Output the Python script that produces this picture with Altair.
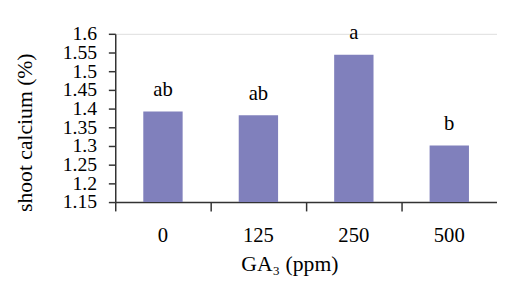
import altair as alt
import pandas as pd

doses = ["0", "125", "250", "500"]
calcium = [1.392, 1.382, 1.544, 1.301]
letters = ["ab", "ab", "a", "b"]
y_ticks = [1.15, 1.2, 1.25, 1.3, 1.35, 1.4, 1.45, 1.5, 1.55, 1.6]

df = pd.DataFrame({"dose": doses, "calcium": calcium, "letter": letters})

FONT = "Liberation Serif"

x = alt.X(
    "dose:N",
    sort=doses,
    scale=alt.Scale(paddingInner=0, paddingOuter=0),
    axis=alt.Axis(
        title="GA₃ (ppm)",
        labelAngle=0,
        bandPosition=0,
        tickSize=9,
        labelPadding=14,
        labelFontSize=21,
        labelFont=FONT,
        labelColor="#000",
        titleFont=FONT,
        titleFontSize=22,
        titleFontWeight="normal",
        titleColor="#000",
        titleX=177,
        titleY=70,
        titleAnchor="middle",
        titleAlign="center",
        titleBaseline="alphabetic",
        domainColor="#333",
        tickColor="#333",
        domainWidth=1.5,
        tickWidth=1.5,
        grid=False,
    ),
)

y = alt.Y(
    "calcium:Q",
    scale=alt.Scale(domain=[1.15, 1.6], zero=False, nice=False),
    axis=alt.Axis(
        title="shoot calcium (%)",
        values=y_ticks,
        labelExpr="replace(format(datum.value, '.2f'), /0$/, '')",
        tickSize=7,
        labelPadding=12,
        labelFontSize=20,
        labelFont=FONT,
        labelColor="#000",
        labelOverlap=False,
        labelFlush=False,
        titleFont=FONT,
        titleFontSize=22,
        titleFontWeight="normal",
        titleColor="#000",
        titleX=-92,
        titleY=100,
        titleAngle=-90,
        titleAlign="center",
        titleBaseline="middle",
        grid=False,
        domainColor="#333",
        tickColor="#333",
        domainWidth=1.5,
        tickWidth=1.5,
    ),
)

base = alt.Chart(df).encode(x=x, y=y)

bars = base.mark_bar(size=40, color="#8080BC", clip=True)

labels = base.mark_text(
    font=FONT, fontSize=21, baseline="alphabetic", dy=-16, color="#000"
).encode(text="letter:N")

chart = (
    alt.layer(bars, labels)
    .properties(
        width=388,
        height=171,
        autosize=alt.AutoSizeParams(type="none"),
        padding={"left": 109, "top": 24, "right": 0, "bottom": 79},
    )
    .configure_view(strokeWidth=0, stroke="transparent")
    .configure(background="white")
)

chart.save("out.html", embed_options={"renderer": "svg", "actions": False})
